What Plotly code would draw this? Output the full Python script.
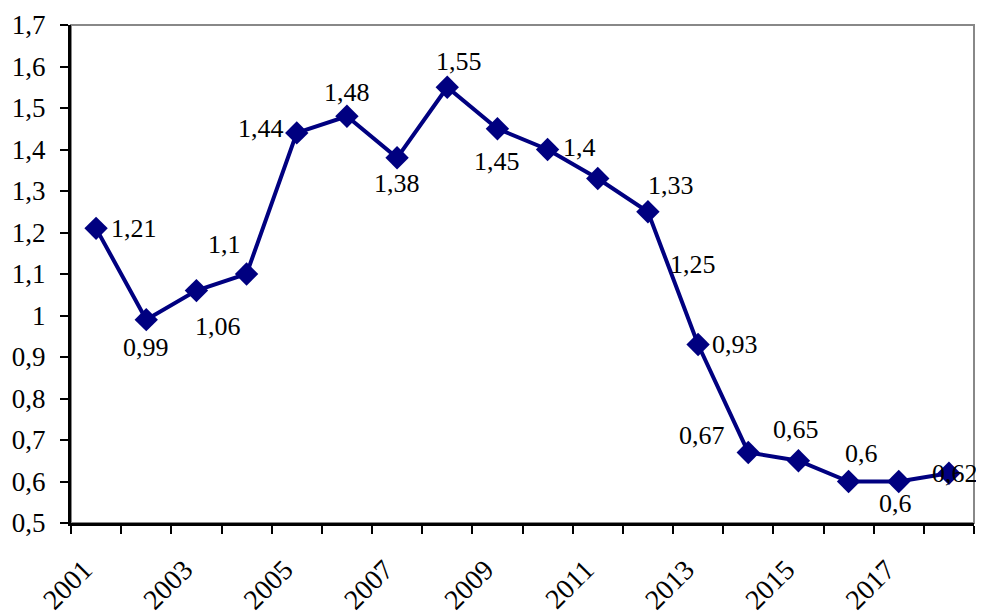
import plotly.graph_objects as go

years = list(range(2001, 2019))
values = [1.21, 0.99, 1.06, 1.1, 1.44, 1.48, 1.38, 1.55, 1.45, 1.4, 1.33, 1.25,
          0.93, 0.67, 0.65, 0.6, 0.6, 0.62]
x_label_years = [y for y in years if y % 2 == 1]
y_tick_vals = [0.5, 0.6, 0.7, 0.8, 0.9, 1.0, 1.1, 1.2, 1.3, 1.4, 1.5, 1.6, 1.7]
y_tick_text = ["0,5", "0,6", "0,7", "0,8", "0,9", "1", "1,1", "1,2", "1,3", "1,4",
               "1,5", "1,6", "1,7"]
# label pixel offsets (dx, dy) relative to each point, dy positive = up
label_offsets = [(38, 0), (0, -28), (22, -36), (-22, 30), (-36, 4), (0, 24), (0, -26),
                 (12, 26), (0, -33), (32, 2), (73, -7), (45, -53), (37, 0), (-46, 17),
                 (-2, 31), (13, 28), (-3, -22), (6, 0)]

NAVY = "#000080"
FONT = "Liberation Serif"

fig = go.Figure()
fig.add_trace(go.Scatter(
    x=years, y=values, mode="lines+markers",
    line=dict(color=NAVY, width=4),
    marker=dict(symbol="diamond", size=18, color=NAVY),
    hoverinfo="skip", showlegend=False,
))

annotations = []
for yr, v, (dx, dy) in zip(years, values, label_offsets):
    annotations.append(dict(x=yr, y=v, xref="x", yref="y", text=str(v).replace(".", ","),
                            showarrow=False, xshift=dx, yshift=dy,
                            font=dict(family=FONT, size=26, color="black")))

fig.update_layout(
    width=976, height=607,
    margin=dict(l=63, r=10, t=17, b=92, autoexpand=False),
    paper_bgcolor="white", plot_bgcolor="white",
    font=dict(family=FONT, color="black"),
    annotations=annotations,
    shapes=[dict(type="rect", xref="paper", yref="paper", x0=0, y0=0, x1=1, y1=1,
                 line=dict(color="#888888", width=2), layer="below")],
)
fig.update_xaxes(
    range=[2000.5, 2018.5],
    tickvals=x_label_years, ticktext=[str(y) for y in x_label_years],
    ticks="", tickangle=-45, tickfont=dict(family=FONT, size=28, color="black"),
    ticklabelshift=-12, ticklabelstandoff=16,
    minor=dict(tickvals=[y - 0.5 for y in years] + [2018.5], ticks="outside",
               ticklen=8, tickwidth=2, tickcolor="black", showgrid=False),
    showline=True, linecolor="black", linewidth=3,
    showgrid=False, zeroline=False,
)
fig.update_yaxes(
    range=[0.5, 1.7], tickvals=y_tick_vals, ticktext=y_tick_text,
    ticks="outside", ticklen=8, tickwidth=2, tickcolor="black",
    showline=True, linecolor="black", linewidth=3,
    tickfont=dict(family=FONT, size=27, color="black"), ticklabelstandoff=9,
    showgrid=False, zeroline=False,
)

fig.write_html("out.html")
